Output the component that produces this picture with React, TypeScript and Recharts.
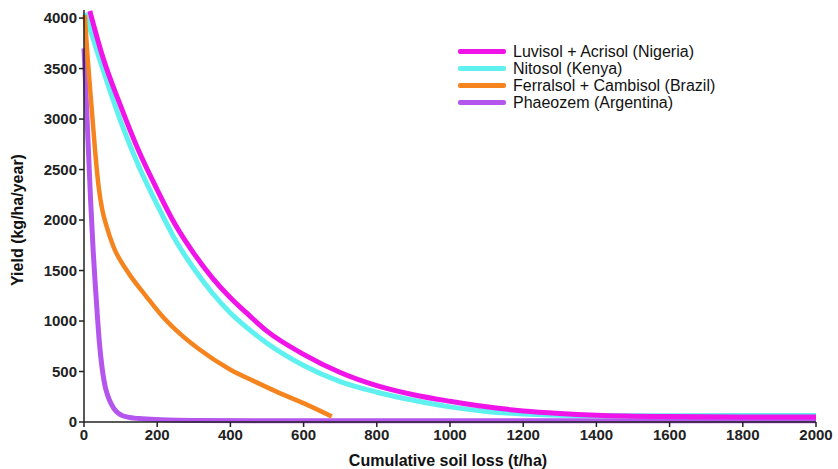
import React from "react";
import { LineChart, Line, XAxis, YAxis, Legend, Label } from "recharts";

// Tick labels
const xTicks = [0, 200, 400, 600, 800, 1000, 1200, 1400, 1600, 1800, 2000];
const yTicks = [0, 500, 1000, 1500, 2000, 2500, 3000, 3500, 4000];

// Luvisol + Acrisol (Nigeria)
const luvisolX = [16, 50, 100, 150, 200, 250, 300, 350, 400, 450, 500, 600, 700, 800, 900, 1000, 1100, 1200, 1300, 1400, 1600, 1800, 2000];
const luvisolY = [4070, 3630, 3130, 2680, 2300, 1950, 1670, 1430, 1230, 1060, 900, 670, 490, 360, 270, 205, 150, 110, 85, 68, 54, 50, 50];

// Nitosol (Kenya)
const nitosolX = [3, 50, 100, 150, 200, 250, 300, 350, 400, 450, 500, 600, 700, 800, 900, 1000, 1100, 1200, 1300, 1400, 1600, 1800, 2000];
const nitosolY = [4050, 3510, 2980, 2530, 2150, 1800, 1520, 1280, 1080, 920, 780, 560, 400, 295, 215, 150, 105, 80, 66, 62, 63, 64, 65];

// Ferralsol + Cambisol (Brazil)
const ferralsolX = [2, 10, 20, 30, 40, 50, 60, 80, 117, 171, 211, 262, 311, 399, 470, 536, 610, 677];
const ferralsolY = [4030, 3600, 3150, 2700, 2330, 2100, 1960, 1740, 1500, 1240, 1060, 875, 730, 520, 395, 284, 170, 55];

// Phaeozem (Argentina)
const phaeozemX = [0, 6, 12, 18, 25, 31, 36, 41, 46, 52, 58, 65, 75, 88, 102, 125, 150, 210, 300, 600, 2000];
const phaeozemY = [3700, 3200, 2700, 2200, 1700, 1350, 1080, 830, 640, 470, 350, 260, 175, 105, 68, 45, 34, 22, 15, 12, 12];

const seriesNames = [
  "Luvisol + Acrisol (Nigeria)",
  "Nitosol (Kenya)",
  "Ferralsol + Cambisol (Brazil)",
  "Phaeozem (Argentina)",
];
const seriesColors = ["#f014e8", "#5ff0f0", "#f5841f", "#b456ee"];

const toPoints = (xs: number[], ys: number[]) => xs.map((x, i) => ({ x, y: ys[i] }));

const luvisol = toPoints(luvisolX, luvisolY);
const nitosol = toPoints(nitosolX, nitosolY);
const ferralsol = toPoints(ferralsolX, ferralsolY);
const phaeozem = toPoints(phaeozemX, phaeozemY);

const FONT = "'Liberation Sans', Arial, Helvetica, sans-serif";

const renderLegend = () => (
  <div style={{ fontFamily: FONT, fontSize: 16, color: "#111" }}>
    {seriesNames.map((name, i) => (
      <div key={name} style={{ display: "flex", alignItems: "center", height: 17 }}>
        <div style={{ width: 48, height: 5, background: seriesColors[i], borderRadius: 2, marginRight: 7 }} />
        <span style={{ whiteSpace: "nowrap", lineHeight: "17px" }}>{name}</span>
      </div>
    ))}
  </div>
);

const tickStyle = { fontFamily: FONT, fontSize: 15, fontWeight: 700, fill: "#222" };

export default function App() {
  return (
    <div style={{ position: "absolute", left: 0, top: 0, width: 838, height: 469, background: "#fff" }}>
      <LineChart width={838} height={469} margin={{ top: 10, right: 22, bottom: 0, left: 0 }}>
        <XAxis
          type="number"
          dataKey="x"
          domain={[0, 2000]}
          ticks={xTicks}
          interval={0}
          allowDuplicatedCategory={false}
          height={47}
          tick={tickStyle}
          tickSize={5}
          stroke="#222"
          strokeWidth={1.5}
        >
          <Label
            content={() => (
              <text x={448} y={466} textAnchor="middle" style={{ fontFamily: FONT, fontSize: 16, fontWeight: 700, fill: "#111" }}>
                Cumulative soil loss (t/ha)
              </text>
            )}
          />
        </XAxis>
        <YAxis
          type="number"
          dataKey="y"
          domain={[0, 4080]}
          ticks={yTicks}
          interval={0}
          width={84}
          tick={tickStyle}
          tickSize={5}
          stroke="#222"
          strokeWidth={1.5}
        >
          <Label
            content={() => (
              <text x={23} y={220} textAnchor="middle" transform="rotate(-90 23 220)" style={{ fontFamily: FONT, fontSize: 16, fontWeight: 700, fill: "#111" }}>
                Yield (kg/ha/year)
              </text>
            )}
          />
        </YAxis>
        <Legend
          layout="horizontal"
          verticalAlign="middle"
          align="center"
          content={renderLegend}
          wrapperStyle={{ left: 458, top: 43, width: 340 }}
        />
        <Line data={phaeozem} dataKey="y" name={seriesNames[3]} type="monotone" stroke={seriesColors[3]} strokeWidth={5} dot={false} isAnimationActive={false} />
        <Line data={nitosol} dataKey="y" name={seriesNames[1]} type="monotone" stroke={seriesColors[1]} strokeWidth={5} dot={false} isAnimationActive={false} />
        <Line data={luvisol} dataKey="y" name={seriesNames[0]} type="monotone" stroke={seriesColors[0]} strokeWidth={5} dot={false} isAnimationActive={false} />
        <Line data={ferralsol} dataKey="y" name={seriesNames[2]} type="monotone" stroke={seriesColors[2]} strokeWidth={4.5} dot={false} isAnimationActive={false} />
      </LineChart>
    </div>
  );
}
